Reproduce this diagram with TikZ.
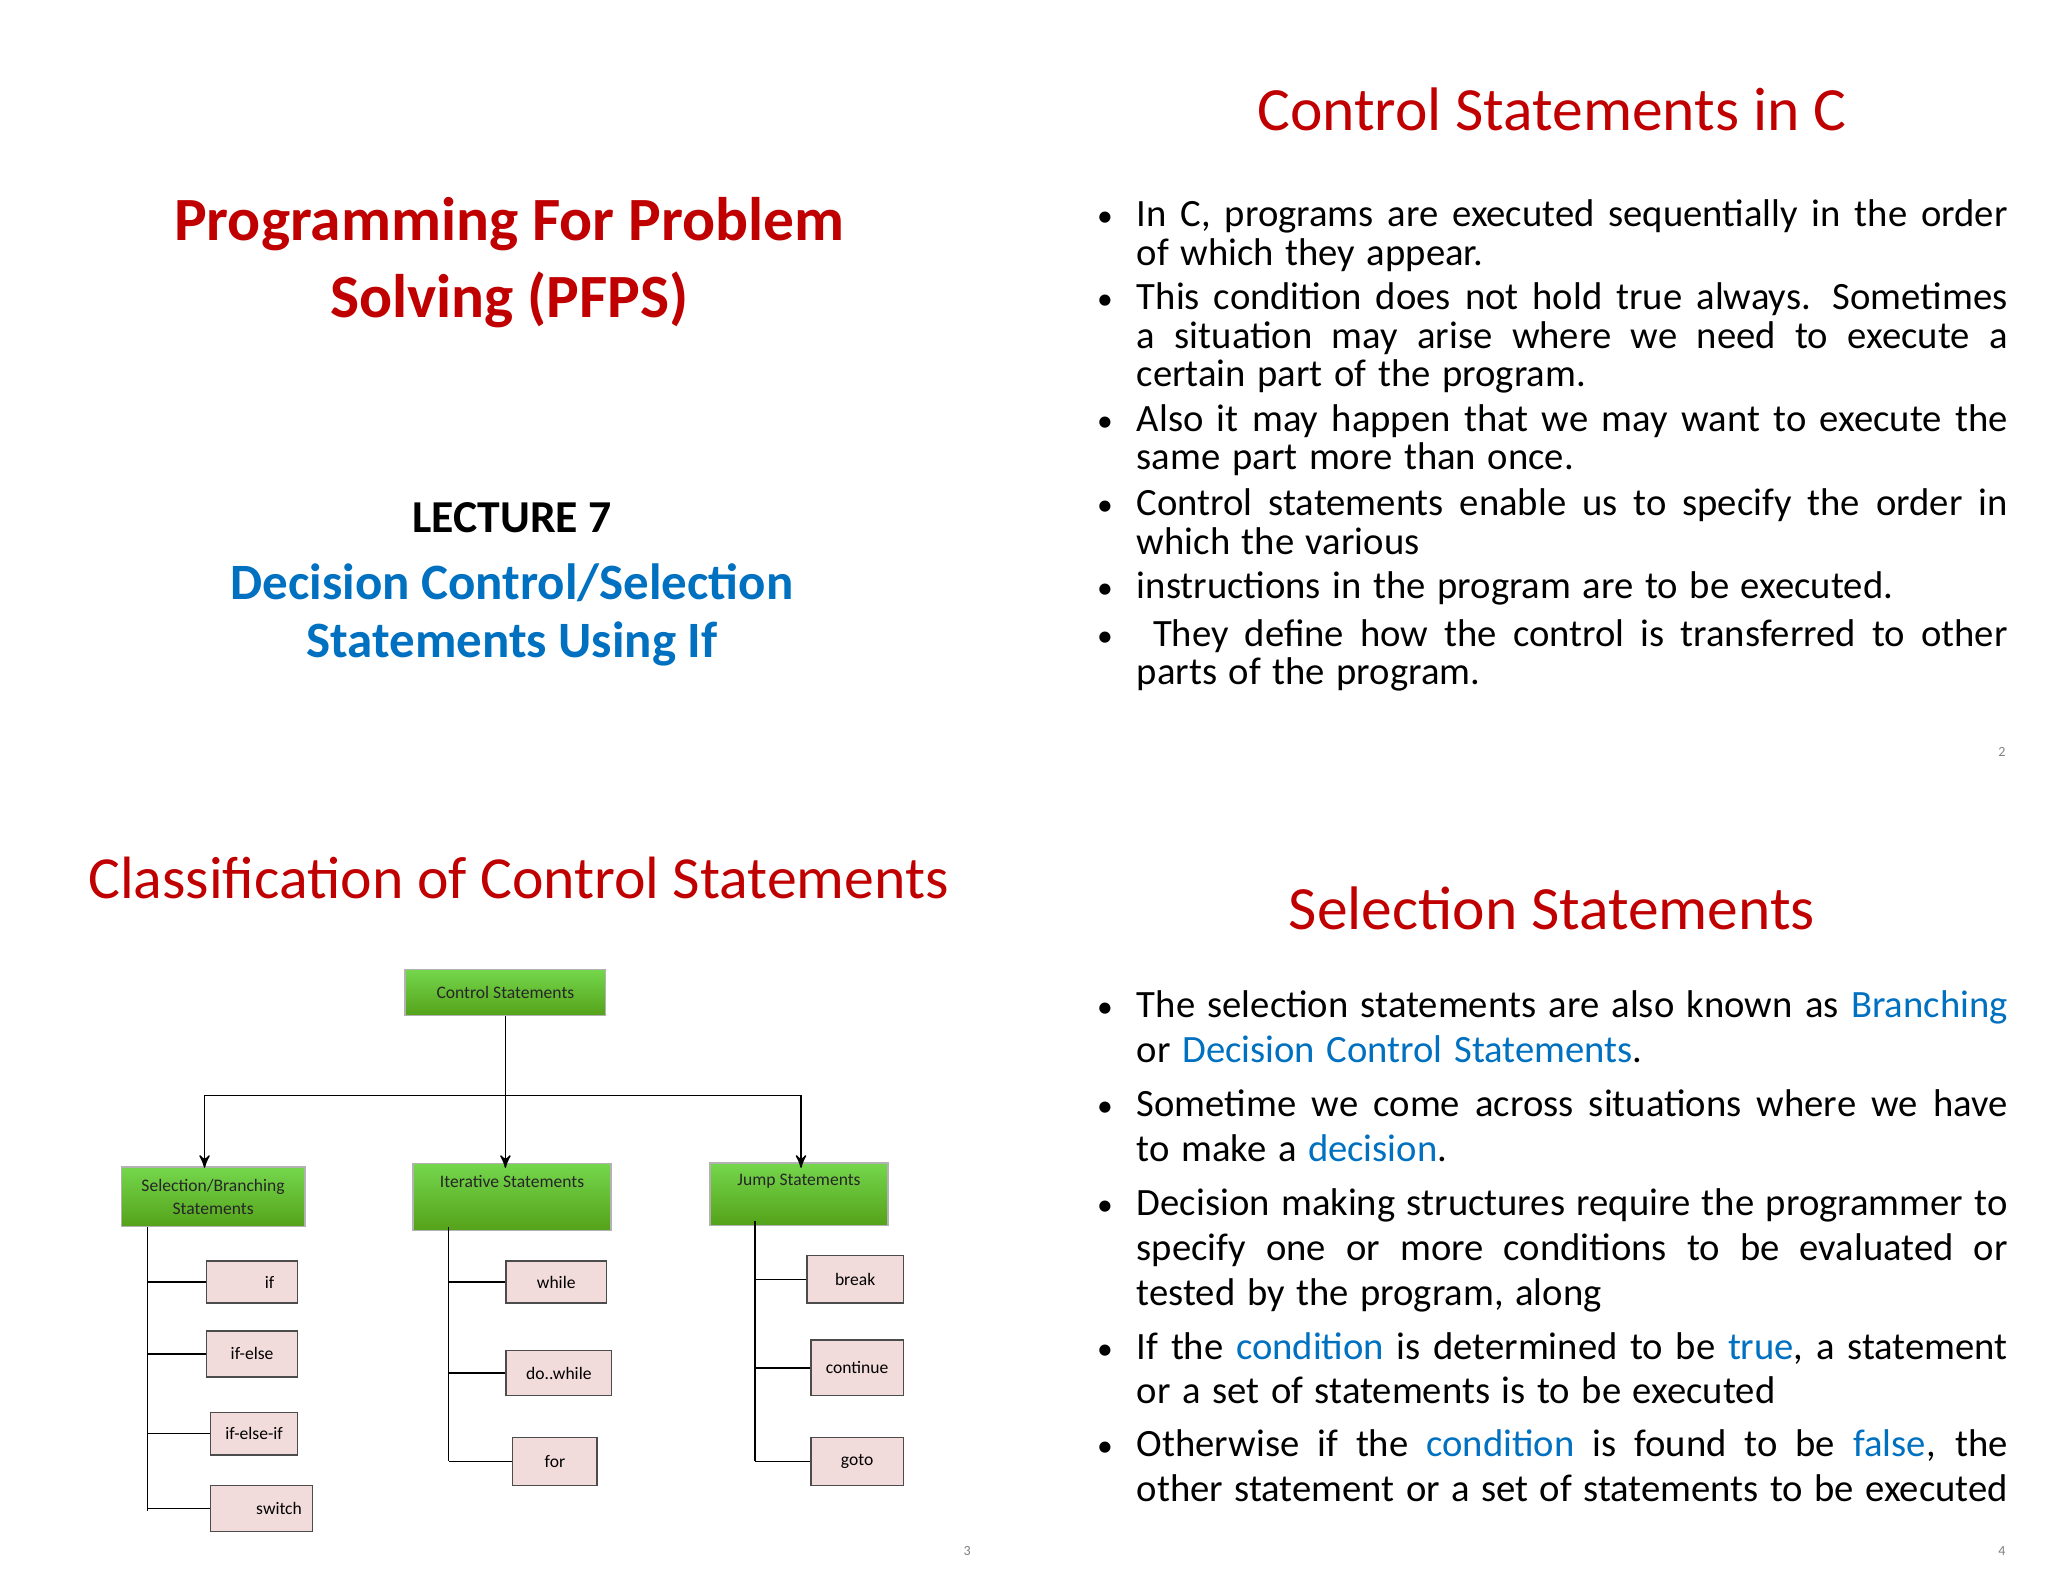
\documentclass[tikz,border=0pt]{standalone}
\usepackage{fontspec}
\setmainfont{Carlito}
\usetikzlibrary{positioning,arrows}
\definecolor{pptred}{HTML}{C00000}
\definecolor{pptblue}{HTML}{0070C0}
\definecolor{boxpink}{HTML}{F2DCDB}
\tikzset{
 grn/.style={draw=gray!60,top color=green!55!olive!70!white,bottom color=green!40!olive!85!black!90,minimum height=35\unitpx,font=\fontsize{5}{6.5}\selectfont,align=center,text=black!85},
 pnk/.style={draw=black!70,fill=boxpink,anchor=north west,font=\fontsize{5}{6.5}\selectfont,inner sep=3pt},
 bul/.style={anchor=north west,text width=8.71cm,align=justify,inner sep=0pt,font=\fontsize{11}{10.9}\selectfont\nohyph},
 bulb/.style={bul,font=\fontsize{11}{12.8}\selectfont\nohyph},
 pgno/.style={font=\fontsize{4}{5}\selectfont,text=gray}
}
\newlength\unitpx
\setlength\unitpx{0.013196cm}
\newcommand\nohyph{\hyphenpenalty=10000 \exhyphenpenalty=10000 \emergencystretch=3em \spaceskip=0.3em plus 0.4em minus 0.05em}
\newcommand\bu{\llap{{\small\textbullet}\hspace{2.4mm}}}
\begin{document}
\begin{tikzpicture}[x=0.013196cm,y=-0.013196cm]
 \useasboundingbox (0,0) rectangle (1552,1199);
 % slide 1
 \node[font=\fontsize{17.5}{22}\selectfont\bfseries,text=pptred,align=center] (t1) at (386,199) {Programming For Problem\\Solving (PFPS)};
 \node[font=\fontsize{13}{16}\selectfont\bfseries] (lec) at (388,392) {LECTURE 7};
 \node[font=\fontsize{14.5}{16.5}\selectfont\bfseries,text=pptblue,align=center] (sub) at (388,466) {Decision Control/Selection\\Statements Using If};
 % slide 2
 \node[font=\fontsize{17.5}{20}\selectfont,text=pptred] (t2) at (1176,83) {Control Statements in C};
 \node[bul] (a0) at (861,151) {\bu In C, programs are executed sequentially in the order of which they appear.};
 \node[bul] (a1) at (861,214) {\bu This condition does not hold true always. Sometimes a situation may arise where we need to execute a certain part of the program.};
 \node[bul] (a2) at (861,306) {\bu Also it may happen that we may want to execute the same part more than once.};
 \node[bul] (a3) at (861,370) {\bu Control statements enable us to specify the order in which the various};
 \node[bul] (a4) at (861,433) {\bu instructions in the program are to be executed.};
 \node[bul] (a5) at (861,469) {\bu \ They define how the control is transferred to other parts of the program.};
 \node[pgno] (p2) at (1517,570) {2};
 % slide 3
 \node[font=\fontsize{17}{20}\selectfont,text=pptred] (t3) at (393,665) {Classification of Control Statements};
 \node[grn,minimum width=152\unitpx] (cs) at (383,752) {Control Statements};
 \node[grn,minimum width=139\unitpx,minimum height=45\unitpx] (s0) at (161.5,907) {Selection/Branching\\Statements};
 \node[grn,minimum width=150\unitpx,minimum height=45\unitpx] (s1) at (388,907) {Iterative Statements\\[1ex]};
 \node[grn,minimum width=135\unitpx,minimum height=40\unitpx] (s2) at (605.5,905) {Jump Statements\\[0.6ex]};
 \coordinate (hub) at (383,830);
 \draw (cs.south) -- (hub);
 \draw (155,830) -- (607,830);
 \draw[->,>=stealth'] (155,830) -- (155,885);
 \draw[->,>=stealth'] (hub) -- (383,885);
 \draw[->,>=stealth'] (607,830) -- (607,885);
 % children
 \node[pnk,minimum width=69\unitpx,minimum height=32\unitpx] (c0) at (156,955) {\hspace{10pt}if};
 \node[pnk,minimum width=69\unitpx,minimum height=35\unitpx] (c1) at (156,1008) {if-else\hspace{14pt}};
 \node[pnk,minimum width=66\unitpx,minimum height=32\unitpx] (c2) at (159,1070) {if-else-if};
 \node[pnk,minimum width=66\unitpx,minimum height=35\unitpx] (c3) at (159,1125) {\hspace{10pt}switch};
 \node[pnk,minimum width=76\unitpx,minimum height=32\unitpx] (c4) at (383,955) {while};
 \node[pnk,minimum width=80\unitpx,minimum height=34\unitpx] (c5) at (383,1023) {do..while\hspace{8pt}};
 \node[pnk,minimum width=64\unitpx,minimum height=36\unitpx] (c6) at (388,1089) {for\hspace{14pt}};
 \node[pnk,minimum width=73\unitpx,minimum height=36\unitpx] (c7) at (611,951) {break};
 \node[pnk,minimum width=70\unitpx,minimum height=42\unitpx] (c8) at (614,1015) {continue};
 \node[pnk,minimum width=70\unitpx,minimum height=36\unitpx] (c9) at (614,1089) {goto};
 % connectors
 \draw (112,930) -- (112,1145);
 \draw (340,930) -- (340,1107);
 \draw (572,925) -- (572,1107);
 \foreach \x/\t in {0/112,1/112,2/112,3/112,4/340,5/340,6/340,7/572,8/572,9/572} {
  \draw (c\x.west) -- (\t,0 |- c\x.west);
 };
 \node[pgno] (p3) at (733,1175) {3};
 % slide 4
 \node[font=\fontsize{17.5}{20}\selectfont,text=pptred] (t4) at (1176,688) {Selection Statements};
 \node[bulb] (d0) at (861,750) {\bu The selection statements are also known as \textcolor{pptblue}{Branching} or \textcolor{pptblue}{Decision Control Statements}.};
 \node[bulb] (d1) at (861,825) {\bu Sometime we come across situations where we have to make a \textcolor{pptblue}{decision}.};
 \node[bulb] (d2) at (861,900) {\bu Decision making structures require the programmer to specify one or more conditions to be evaluated or tested by the program, along};
 \node[bulb] (d3) at (861,1009) {\bu If the \textcolor{pptblue}{condition} is determined to be \textcolor{pptblue}{true}, a statement or a set of statements is to be executed};
 \node[bulb] (d4) at (861,1083) {\bu Otherwise if the \textcolor{pptblue}{condition} is found to be \textcolor{pptblue}{false}, the other statement or a set of statements to be executed};
 \node[pgno] (p4) at (1517,1175) {4};
\end{tikzpicture}
\end{document}
